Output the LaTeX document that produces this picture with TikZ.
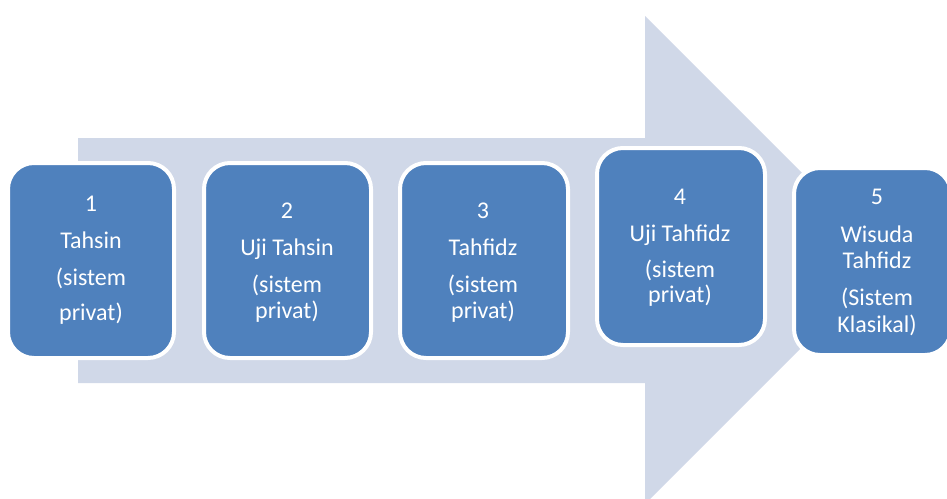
\documentclass[tikz,border=0pt]{standalone}
\usepackage{fontspec}
\setmainfont{Carlito}
\definecolor{arrowfill}{HTML}{D0D8E8}
\definecolor{boxfill}{HTML}{4F81BD}
\begin{document}
\begin{tikzpicture}[x=1pt,y=-1pt,
  stepbox/.style={draw=white, line width=4pt, fill=boxfill, rounded corners=26pt},
  lbl/.style={text=white, font=\fontsize{24}{28}\selectfont, anchor=base, inner sep=0pt}]
\useasboundingbox (0,0) rectangle (947,498);
\clip (0,0) rectangle (947,498);
% big arrow
\fill[arrowfill] (78,138) -- (645,138) -- (645,16) -- (889,260) -- (645,504) -- (645,383) -- (78,383) -- cycle;
% boxes
\draw[stepbox] (8,163) rectangle (174,358) node[coordinate] (b1) {};
\draw[stepbox] (204,163) rectangle (371,358) node[coordinate] (b2) {};
\draw[stepbox] (400,163) rectangle (568,358) node[coordinate] (b3) {};
\draw[stepbox] (597,148) rectangle (765,345) node[coordinate] (b4) {};
\draw[stepbox] (794,168) rectangle (951,355) node[coordinate] (b5) {};
% texts
\node[lbl] (t1a) at (91,211) {1};
\node[lbl] (t1b) at (91,248) {Tahsin};
\node[lbl] (t1c) at (91,285) {(sistem};
\node[lbl] (t1d) at (91,320) {privat)};
\node[lbl] (t2a) at (287,218) {2};
\node[lbl] (t2b) at (287,255) {Uji Tahsin};
\node[lbl] (t2c) at (287,292) {(sistem};
\node[lbl] (t2d) at (287,318) {privat)};
\node[lbl] (t3a) at (483,218) {3};
\node[lbl] (t3b) at (483,255) {Tahfidz};
\node[lbl] (t3c) at (483,292) {(sistem};
\node[lbl] (t3d) at (483,318) {privat)};
\node[lbl] (t4a) at (680,204) {4};
\node[lbl] (t4b) at (680,241) {Uji Tahfidz};
\node[lbl] (t4c) at (680,277) {(sistem};
\node[lbl] (t4d) at (680,302) {privat)};
\node[lbl] (t5a) at (877,204) {5};
\node[lbl] (t5b) at (877,242) {Wisuda};
\node[lbl] (t5c) at (877,268) {Tahfidz};
\node[lbl] (t5d) at (877,305) {(Sistem};
\node[lbl] (t5e) at (877,332) {Klasikal)};
\end{tikzpicture}
\end{document}
